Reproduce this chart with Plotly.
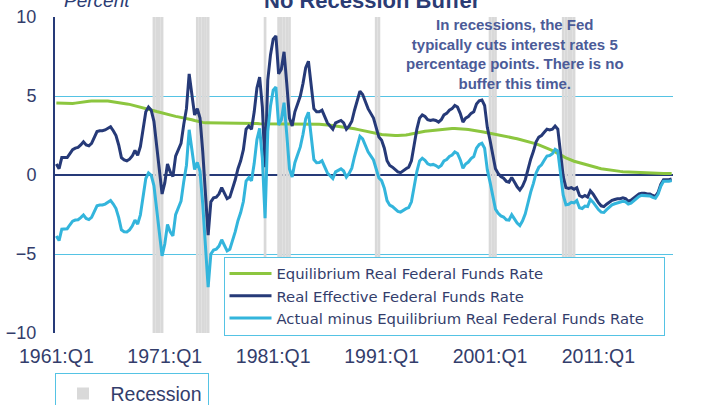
import plotly.graph_objects as go

# ---------------- data (quarterly, 1961:Q1 - 2017:Q4) ----------------
quarters = [f"{y}:Q{k}" for y in range(1961, 2018) for k in range(1, 5)]

tick_labels = ["1961:Q1", "1971:Q1", "1981:Q1", "1991:Q1", "2001:Q1", "2011:Q1"]

equilibrium_rate = [
    4.56, 4.55, 4.53, 4.52, 4.50, 4.50, 4.52, 4.55, 4.58, 4.60, 4.63, 4.65, 4.67, 4.68, 4.69, 4.70,
    4.70, 4.70, 4.69, 4.68, 4.66, 4.64, 4.62, 4.60, 4.57, 4.54, 4.50, 4.47, 4.43, 4.40, 4.36, 4.32,
    4.27, 4.22, 4.17, 4.12, 4.07, 4.02, 3.97, 3.92, 3.87, 3.83, 3.79, 3.75, 3.71, 3.68, 3.65, 3.62,
    3.58, 3.54, 3.50, 3.45, 3.40, 3.36, 3.33, 3.30, 3.30, 3.30, 3.30, 3.30, 3.30, 3.30, 3.30, 3.30,
    3.30, 3.29, 3.29, 3.29, 3.28, 3.28, 3.28, 3.27, 3.27, 3.26, 3.26, 3.25, 3.25, 3.24, 3.24, 3.24,
    3.23, 3.23, 3.23, 3.22, 3.22, 3.22, 3.22, 3.22, 3.22, 3.22, 3.22, 3.22, 3.23, 3.23, 3.23, 3.22,
    3.22, 3.21, 3.20, 3.19, 3.17, 3.15, 3.13, 3.10, 3.08, 3.06, 3.05, 3.03, 3.00, 2.97, 2.93, 2.89,
    2.85, 2.81, 2.77, 2.73, 2.69, 2.65, 2.62, 2.59, 2.56, 2.54, 2.52, 2.51, 2.50, 2.50, 2.50, 2.50,
    2.51, 2.53, 2.56, 2.60, 2.64, 2.68, 2.71, 2.74, 2.77, 2.79, 2.81, 2.83, 2.85, 2.87, 2.89, 2.91,
    2.92, 2.93, 2.94, 2.94, 2.94, 2.93, 2.92, 2.90, 2.88, 2.86, 2.83, 2.80, 2.77, 2.74, 2.71, 2.68,
    2.65, 2.60, 2.56, 2.52, 2.49, 2.46, 2.43, 2.40, 2.37, 2.33, 2.29, 2.25, 2.20, 2.16, 2.12, 2.08,
    2.03, 1.97, 1.91, 1.85, 1.77, 1.70, 1.62, 1.55, 1.47, 1.38, 1.28, 1.18, 1.08, 1.00, 0.93, 0.87,
    0.82, 0.77, 0.72, 0.67, 0.60, 0.55, 0.52, 0.48, 0.44, 0.40, 0.37, 0.34, 0.31, 0.29, 0.27, 0.25,
    0.23, 0.21, 0.20, 0.19, 0.18, 0.17, 0.16, 0.15, 0.14, 0.14, 0.13, 0.13, 0.12, 0.12, 0.11, 0.11,
    0.10, 0.10, 0.10, 0.10,
]

real_effective_rate = [
    0.70, 0.40, 1.10, 1.10, 1.10, 1.35, 1.60, 1.70, 1.75, 1.90, 2.10, 1.90, 1.85, 2.00, 2.40, 2.75,
    2.80, 2.80, 2.85, 2.95, 3.05, 2.80, 2.50, 1.90, 1.10, 0.95, 0.90, 1.00, 1.20, 1.55, 1.25, 1.80,
    2.90, 4.00, 4.30, 4.10, 3.40, 1.80, 0.50, -1.20, -0.50, 0.70, 0.20, -0.10, 1.20, 1.60, 2.00, 3.20,
    4.20, 6.40, 5.00, 3.80, 4.20, 3.60, 1.50, -1.20, -3.80, -1.70, -1.45, -1.40, -1.20, -0.80, -1.20, -1.50,
    -1.40, -0.90, -0.30, 0.40, 0.90, 1.60, 2.90, 3.10, 2.90, 4.00, 5.50, 6.20, 4.30, 0.50, 6.00, 7.60,
    8.60, 8.80, 6.40, 6.70, 7.80, 5.80, 3.60, 3.10, 4.00, 4.50, 5.00, 5.80, 6.80, 7.20, 5.60, 4.20,
    4.00, 4.00, 4.10, 3.70, 3.30, 3.10, 2.90, 3.30, 3.40, 3.45, 3.30, 2.90, 3.10, 3.40, 4.10, 4.70,
    5.30, 5.10, 4.60, 4.20, 3.90, 3.60, 3.00, 2.40, 2.20, 1.70, 0.90, 0.60, 0.50, 0.35, 0.20, 0.15,
    0.30, 0.40, 0.50, 0.90, 1.90, 2.90, 3.60, 3.80, 3.70, 3.50, 3.45, 3.50, 3.45, 3.35, 3.50, 3.80,
    3.90, 4.10, 4.20, 4.40, 4.30, 3.90, 3.35, 3.60, 3.70, 3.90, 4.00, 4.50, 4.70, 4.75, 4.40, 3.00,
    2.20, 1.20, 0.40, 0.10, -0.10, -0.20, -0.40, -0.45, -0.15, -0.45, -0.75, -0.95, -0.70, -0.30, 0.40, 1.00,
    1.50, 2.10, 2.40, 2.50, 2.70, 2.90, 2.85, 2.90, 3.10, 2.90, 1.40, -0.10, -0.80, -0.85, -0.80, -0.90,
    -0.80, -1.30, -1.40, -1.30, -1.40, -1.00, -1.20, -1.50, -1.75, -1.95, -2.00, -1.85, -1.70, -1.60, -1.55, -1.50,
    -1.50, -1.45, -1.50, -1.65, -1.60, -1.45, -1.35, -1.20, -1.15, -1.15, -1.20, -1.20, -1.30, -1.35, -1.10, -0.60,
    -0.30, -0.30, -0.30, -0.25,
]

actual_minus_equilibrium = [
    -3.86, -4.15, -3.43, -3.42, -3.40, -3.15, -2.92, -2.85, -2.83, -2.70, -2.53, -2.75, -2.82, -2.68, -2.29, -1.95,
    -1.90, -1.90, -1.84, -1.73, -1.61, -1.84, -2.12, -2.70, -3.47, -3.59, -3.60, -3.47, -3.23, -2.85, -3.11, -2.52,
    -1.37, -0.22, 0.13, -0.02, -0.67, -2.22, -3.47, -5.12, -4.37, -3.13, -3.59, -3.85, -2.51, -2.08, -1.65, -0.42,
    0.62, 2.86, 1.50, 0.35, 0.80, 0.24, -1.83, -4.50, -7.10, -5.00, -4.75, -4.70, -4.50, -4.10, -4.50, -4.80,
    -4.70, -4.19, -3.59, -2.89, -2.38, -1.68, -0.38, -0.17, -0.37, 0.74, 2.24, 2.95, 1.05, -2.74, 2.76, 4.36,
    5.37, 5.57, 3.17, 3.48, 4.58, 2.58, 0.38, -0.12, 0.78, 1.28, 1.78, 2.58, 3.57, 3.97, 2.37, 0.98,
    0.78, 0.79, 0.90, 0.51, 0.13, -0.05, -0.23, 0.20, 0.32, 0.39, 0.25, -0.13, 0.10, 0.43, 1.17, 1.81,
    2.45, 2.29, 1.83, 1.47, 1.21, 0.95, 0.38, -0.19, -0.36, -0.84, -1.62, -1.91, -2.00, -2.15, -2.30, -2.35,
    -2.21, -2.13, -2.06, -1.70, -0.74, 0.22, 0.89, 1.06, 0.93, 0.71, 0.64, 0.67, 0.60, 0.48, 0.61, 0.89,
    0.98, 1.17, 1.26, 1.46, 1.36, 0.97, 0.43, 0.70, 0.82, 1.04, 1.17, 1.70, 1.93, 2.01, 1.69, 0.32,
    -0.45, -1.40, -2.16, -2.42, -2.59, -2.66, -2.83, -2.85, -2.52, -2.78, -3.04, -3.20, -2.90, -2.46, -1.72, -1.08,
    -0.53, 0.13, 0.49, 0.65, 0.93, 1.20, 1.23, 1.35, 1.63, 1.52, 0.12, -1.28, -1.88, -1.85, -1.73, -1.77,
    -1.62, -2.07, -2.12, -1.97, -2.00, -1.55, -1.72, -1.98, -2.19, -2.35, -2.37, -2.19, -2.01, -1.89, -1.82, -1.75,
    -1.73, -1.66, -1.70, -1.84, -1.78, -1.62, -1.51, -1.35, -1.29, -1.29, -1.33, -1.33, -1.42, -1.47, -1.21, -0.71,
    -0.40, -0.40, -0.40, -0.35,
]

recession_quarters = [
    "1970:Q1", "1970:Q2", "1970:Q3", "1970:Q4",
    "1974:Q1", "1974:Q2", "1974:Q3", "1974:Q4", "1975:Q1",
    "1980:Q2",
    "1981:Q3", "1981:Q4", "1982:Q1", "1982:Q2", "1982:Q3",
    "1990:Q3", "1990:Q4",
    "2001:Q1", "2001:Q2", "2001:Q3",
    "2007:Q4", "2008:Q1", "2008:Q2", "2008:Q3", "2008:Q4",
]
recession_flag = [1] * len(recession_quarters)

series_names = [
    "Equilibrium Real Federal Funds Rate",
    "Real Effective Federal Funds Rate",
    "Actual minus Equilibrium Real Federal Funds Rate",
]

# ---------------- styling ----------------
FONT = "Liberation Sans, Arial, sans-serif"
LEG_FONT = "DejaVu Sans, Liberation Sans, Arial, sans-serif"
TEXT = "#333D6B"
NAVY = "#263A78"
GREEN = "#8CC63F"
CYAN = "#33B5DC"
GRID = "#55C3E4"
GRAY = "#D9D9D9"

W, H = 701, 405
ML, MR, MT, MB = 55, 28, 17, 72
PW, PH = W - ML - MR, H - MT - MB

fig = go.Figure()

fig.add_trace(go.Bar(
    x=recession_quarters, y=recession_flag, yaxis="y", name="Recession",
    marker=dict(color=GRAY, line=dict(width=0)), width=1,
    legend="legend2", hoverinfo="skip",
))

pad = "\u00a0" * 3  # keeps the legend frame as wide as the original box
for i, (vals, col) in enumerate(zip(
        [equilibrium_rate, real_effective_rate, actual_minus_equilibrium],
        [GREEN, NAVY, CYAN])):
    name = series_names[i] + (pad if i == 2 else "")
    fig.add_trace(go.Scatter(
        x=quarters, y=vals, yaxis="y2", name=name, mode="lines",
        line=dict(color=col, width=3),
    ))

fig.update_layout(
    width=W, height=H,
    margin=dict(l=ML, r=MR, t=MT, b=MB, autoexpand=False),
    paper_bgcolor="white", plot_bgcolor="white",
    font=dict(family=FONT, color=TEXT),
    showlegend=True,
    xaxis=dict(
        type="category", categoryorder="array", categoryarray=quarters,
        range=[-0.5, len(quarters) - 0.5],
        tickmode="array", tickvals=tick_labels, ticktext=tick_labels,
        showgrid=False, showline=False, zeroline=False, ticks="",
        tickfont=dict(size=19.5, color=TEXT), ticklabelstandoff=9,
    ),
    xaxis2=dict(
        type="category", categoryorder="array", categoryarray=quarters,
        range=[-0.5, len(quarters) - 0.5], overlaying="x",
        anchor="free", position=0.5,
        tickmode="array", tickvals=tick_labels,
        showticklabels=False, showgrid=False, showline=False, zeroline=False,
        ticks="outside", ticklen=5, tickwidth=1.5, tickcolor=NAVY,
    ),
    yaxis=dict(range=[0, 1], visible=False, fixedrange=True),
    yaxis2=dict(
        overlaying="y", side="left", range=[-10, 10],
        tickvals=[-10, -5, 0, 5, 10],
        showgrid=True, gridcolor=GRID, gridwidth=1,
        zeroline=True, zerolinecolor=NAVY, zerolinewidth=2,
        showline=True, linecolor=NAVY, linewidth=2,
        ticks="", tickfont=dict(size=18, color=TEXT), ticklabelstandoff=13,
    ),
    legend=dict(
        x=(223.5 - ML) / PW, y=(H - MB - 256.5) / PH, xanchor="left", yanchor="top",
        bgcolor="white", bordercolor=GRID, borderwidth=1,
        font=dict(size=14.8, color=TEXT, family=LEG_FONT),
        itemwidth=42, traceorder="normal",
    ),
    legend2=dict(
        x=(54.5 - ML) / PW, y=(H - MB - 373.3) / PH, xanchor="left", yanchor="top",
        bgcolor="white", bordercolor=GRID, borderwidth=1,
        font=dict(size=19.5, color=TEXT, family=FONT), itemwidth=45,
    ),
    annotations=[
        dict(text="<b>No Recession Buffer</b>", xref="paper", yref="paper",
             x=(372 - ML) / PW, y=1 + (MT - 1) / PH, xanchor="center", yanchor="middle",
             showarrow=False, font=dict(size=22, color="#2B3C74", family=FONT)),
        dict(text="<i>Percent</i>", xref="paper", yref="paper",
             x=(62 - ML) / PW, y=1 + (MT - 1) / PH, xanchor="left", yanchor="middle",
             showarrow=False, font=dict(size=19, color="#2B3C74", family=FONT)),
        dict(text="<b>In recessions, the Fed<br>typically cuts interest rates 5<br>"
                  "percentage points. There is no<br>buffer this time.</b>",
             xref="paper", yref="paper", x=(515 - ML) / PW, y=(H - MB - 54) / PH,
             xanchor="center", yanchor="middle", showarrow=False, align="center",
             font=dict(size=15, color="#4B5B98", family=FONT)),
    ],
)

fig.write_html("out.html", config={"displayModeBar": False},
               post_script="document.body.style.margin='0';")
